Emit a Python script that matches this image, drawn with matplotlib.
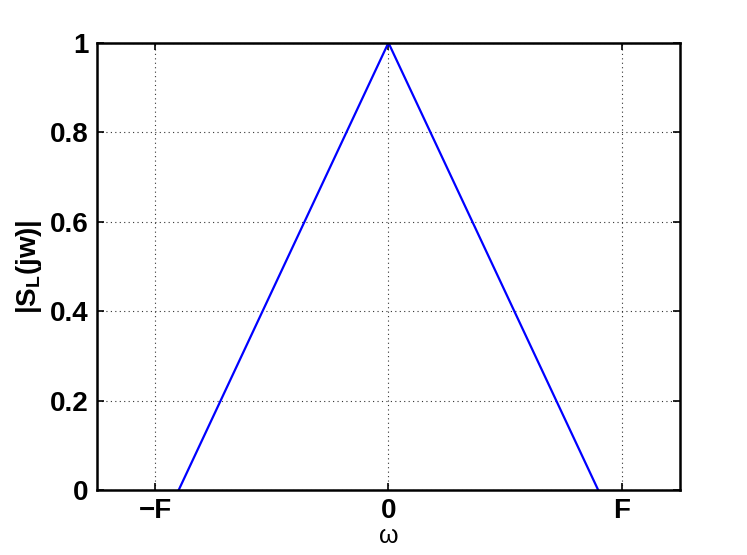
import numpy as np
import matplotlib.pyplot as plt

plt.rcParams['font.family'] = ['Liberation Sans', 'DejaVu Sans']
plt.rcParams['mathtext.fontset'] = 'custom'
plt.rcParams['mathtext.bf'] = 'Liberation Sans:bold'

# triangle spectrum, F normalised to 1
w = [-0.9, 0.0, 0.9]
mag = [0.0, 1.0, 0.0]
xticks = [-1, 0, 1]
xticklabels = ['\u2212F', '0', 'F']
yticks = [0, 0.2, 0.4, 0.6, 0.8, 1]
yticklabels = ['0', '0.2', '0.4', '0.6', '0.8', '1']

fig = plt.figure(figsize=(7.47, 5.55), dpi=100)
ax = fig.add_axes([0.130, 0.117, 0.780, 0.806])
ax.plot(w, mag, color='#0000ff', lw=1.6)

ax.set_xlim(-1.25, 1.25)
ax.set_ylim(0, 1)
ax.set_xticks(xticks)
ax.set_xticklabels(xticklabels, fontsize=20, fontweight='bold')
ax.set_yticks(yticks)
ax.set_yticklabels(yticklabels, fontsize=20, fontweight='bold')
ax.tick_params(direction='in', top=True, right=True, length=5, width=1.2, pad=6)
ax.grid(True, linestyle=(0, (1, 3)), color='#333333', lw=0.8)
for s in ax.spines.values():
    s.set_linewidth(1.8)

ax.set_xlabel('\u03c9', fontsize=18, labelpad=0)
ax.set_ylabel('|S$_\\mathbf{L}$(jw)|', fontsize=20, fontweight='bold', labelpad=4)

fig.savefig('out.png', dpi=100)
